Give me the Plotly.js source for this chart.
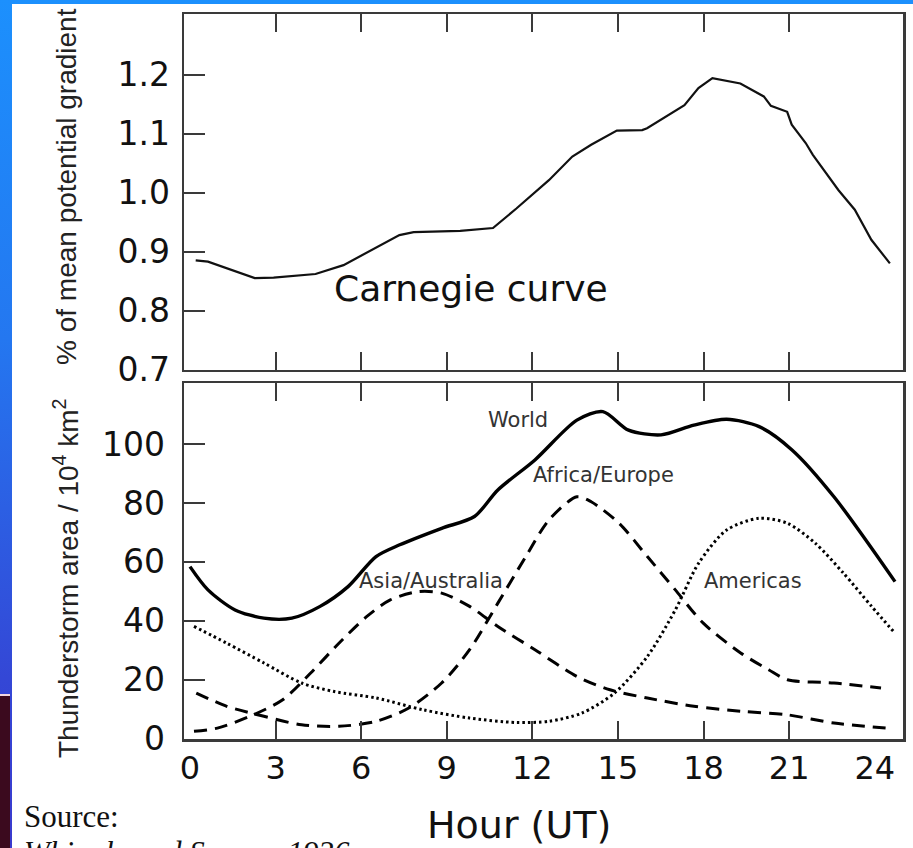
<!DOCTYPE html>
<html><head><meta charset="utf-8">
<script src="https://cdn.plot.ly/plotly-3.0.1.min.js"></script>
<style>
html,body{margin:0;padding:0;width:913px;height:848px;overflow:hidden;}
body{background:linear-gradient(to bottom,#1c90fd 0%,#2477f0 40%,#3447d6 80%,#3a3acd 100%);position:relative;}
#white{position:absolute;left:12px;top:4px;right:0;bottom:0;background:#fff;}
#block{position:absolute;left:0;top:694px;width:10px;height:152px;background:#3b0a1e;border-top:2px solid #f2d6e0;}
#chart{position:absolute;left:0;top:0;width:913px;height:848px;}
</style></head><body>
<div id="white"></div><div id="block"></div><div id="chart"></div>
<script>
// ---- tick values / labels ----
const hourTicks = [0, 3, 6, 9, 12, 15, 18, 21, 24];
const hourLabels = ['0', '3', '6', '9', '12', '15', '18', '21', '24'];
const innerHourTicks = [3, 6, 9, 12, 15, 18, 21];
const gradTicks = [0.7, 0.8, 0.9, 1.0, 1.1, 1.2];
const gradLabels = ['0.7', '0.8', '0.9', '1.0', '1.1', '1.2'];
const gradRightTicks = [1.185, 1.068, 0.951, 0.829];
const areaTicks = [0, 20, 40, 60, 80, 100];
const areaLabels = ['0', '20', '40', '60', '80', '100'];
const areaRightTicks = [101.9, 81.8, 62.0, 41.7, 22.0];

// ---- Carnegie curve ----
const carnegieHour = [0.2, 0.63, 2.27, 2.93, 4.40, 5.38, 7.34, 7.84, 9.47, 10.62, 11.44, 12.58, 13.40, 14.06, 14.96, 15.85, 16.02, 17.33, 17.82, 18.31, 19.29, 20.11, 20.36, 20.93, 21.09, 21.58, 21.83, 22.73, 23.30, 23.88, 24.53];
const carnegieValue = [0.885, 0.883, 0.855, 0.856, 0.862, 0.877, 0.928, 0.933, 0.935, 0.940, 0.973, 1.021, 1.061, 1.081, 1.105, 1.106, 1.109, 1.148, 1.177, 1.194, 1.185, 1.163, 1.147, 1.137, 1.115, 1.084, 1.064, 1.004, 0.971, 0.920, 0.880];

// ---- Thunderstorm areas ----
const worldHour = [0, 0.63, 1.58, 2.59, 3.57, 4.56, 5.54, 6.52, 7.35, 8.82, 9.97, 10.79, 12.09, 13.56, 14.47, 15.37, 16.51, 17.66, 18.81, 19.95, 21.10, 22.57, 24.71];
const worldArea = [58.4, 50.5, 43.7, 40.9, 40.9, 44.9, 51.6, 61.8, 65.8, 71.4, 75.4, 84.4, 94.6, 108.1, 111.0, 104.7, 103.1, 106.4, 108.4, 105.9, 98.0, 82.1, 53.3];

const asiaHour = [0.14, 0.96, 2.10, 3.25, 4.23, 5.22, 6.20, 7.02, 8.0, 8.82, 9.80, 10.79, 12.09, 13.56, 14.72, 16.03, 17.66, 19.30, 20.94, 22.57, 24.38];
const asiaArea = [2.5, 3.6, 7.6, 13.2, 22.3, 32.4, 41.5, 47.1, 49.9, 49.4, 44.9, 38.1, 30.2, 21.1, 16.6, 13.8, 11.0, 9.3, 8.1, 5.3, 3.6];

const africaHour = [0.22, 1.29, 2.59, 3.91, 5.22, 6.53, 7.67, 8.82, 9.80, 10.79, 11.77, 12.58, 13.56, 14.06, 15.04, 16.03, 17.01, 17.99, 19.30, 20.28, 20.94, 22.57, 24.22];
const africaArea = [15.5, 11.0, 7.6, 4.7, 4.2, 5.9, 10.4, 18.9, 30.2, 46.0, 61.8, 74.2, 82.1, 80.4, 73.1, 61.8, 50.5, 39.2, 29.1, 23.4, 20.0, 18.9, 17.2];

const americasHour = [0.14, 1.29, 2.59, 3.91, 5.06, 6.53, 8.17, 9.80, 11.44, 12.58, 13.73, 14.88, 16.03, 17.01, 17.83, 18.81, 19.95, 20.94, 21.92, 22.90, 23.89, 24.71];
const americasArea = [38.1, 32.4, 25.7, 18.9, 16.0, 13.8, 9.8, 7.0, 5.5, 5.9, 8.7, 15.5, 27.9, 43.7, 59.6, 70.8, 74.8, 73.1, 66.3, 56.2, 44.9, 35.8];

const hourRange = [-0.21, 24.99];
const frameColor = '#3a3a3a';
const xTickFont = {family: 'DejaVu Sans', size: 32, color: '#111'};
const yTickFont = {family: 'DejaVu Sans', size: 33, color: '#111'};
const titleFont = {family: 'Liberation Sans, Arial, sans-serif', size: 28, color: '#222'};
const labelFont = {family: 'DejaVu Sans', size: 21, color: '#333'};

const traces = [
  {x: carnegieHour, y: carnegieValue, xaxis: 'x2', yaxis: 'y', mode: 'lines',
   line: {color: '#111', width: 2.2}, hoverinfo: 'skip'},
  {x: worldHour, y: worldArea, xaxis: 'x', yaxis: 'y2', mode: 'lines',
   line: {color: '#000', width: 3.4, shape: 'spline', smoothing: 0.8}},
  {x: asiaHour, y: asiaArea, xaxis: 'x', yaxis: 'y2', mode: 'lines',
   line: {color: '#000', width: 3, dash: '13px,8px', shape: 'spline', smoothing: 0.8}},
  {x: africaHour, y: africaArea, xaxis: 'x', yaxis: 'y2', mode: 'lines',
   line: {color: '#000', width: 3, dash: '13px,8px', shape: 'spline', smoothing: 0.8}},
  {x: americasHour, y: americasArea, xaxis: 'x', yaxis: 'y2', mode: 'lines',
   line: {color: '#000', width: 3, dash: '2.5px,3px', shape: 'spline', smoothing: 0.8}},
  // empty carrier trace so the hour-label axis is drawn
  {x: hourTicks, y: hourTicks.map(() => null), xaxis: 'x3', yaxis: 'y2', mode: 'lines',
   line: {width: 0}, hoverinfo: 'skip'}
];

const baseX = {
  range: hourRange, tickmode: 'array', tickvals: innerHourTicks, ticks: 'inside',
  ticklen: 18, tickwidth: 2, tickcolor: frameColor, showline: true, linecolor: frameColor,
  linewidth: 2.5, mirror: 'ticks', showgrid: false, zeroline: false, showticklabels: false
};

const layout = {
  width: 913, height: 848,
  margin: {l: 184, r: 10, t: 14, b: 109},
  paper_bgcolor: 'rgba(0,0,0,0)', plot_bgcolor: 'rgba(0,0,0,0)',
  showlegend: false,
  xaxis: Object.assign({}, baseX, {anchor: 'y2', domain: [0, 1]}),
  xaxis2: Object.assign({}, baseX, {anchor: 'y', domain: [0, 1]}),
  xaxis3: {overlaying: 'x', anchor: 'y2', side: 'bottom', range: hourRange, tickmode: 'array',
    tickvals: hourTicks, ticktext: hourLabels, ticks: '', showline: false, showgrid: false,
    zeroline: false, showticklabels: true, tickfont: xTickFont, ticklabelstandoff: 7},
  yaxis: {domain: [0.50897, 1], anchor: 'x2', range: [0.6993, 1.3027], tickmode: 'array',
    tickvals: gradTicks, ticktext: gradLabels, ticks: 'inside', ticklen: 21, tickwidth: 2,
    tickcolor: frameColor, showline: true, linecolor: frameColor, linewidth: 2.5, mirror: true,
    showgrid: false, zeroline: false, tickfont: yTickFont, ticklabelstandoff: 5},
  yaxis2: {domain: [0, 0.49103], anchor: 'x', range: [-0.1, 120.7], tickmode: 'array',
    tickvals: areaTicks, ticktext: areaLabels, ticks: 'inside', ticklen: 21, tickwidth: 2,
    tickcolor: frameColor, showline: true, linecolor: frameColor, linewidth: 2.5, mirror: true,
    showgrid: false, zeroline: false, tickfont: yTickFont, ticklabelstandoff: 10},
  yaxis3: {overlaying: 'y', side: 'right', anchor: 'x2', range: [0.6993, 1.3027], tickmode: 'array',
    tickvals: gradRightTicks, ticks: 'inside', ticklen: 20, tickwidth: 2, tickcolor: frameColor,
    showticklabels: false, showline: false, showgrid: false, zeroline: false},
  yaxis4: {overlaying: 'y2', side: 'right', anchor: 'x', range: [-0.1, 120.7], tickmode: 'array',
    tickvals: areaRightTicks, ticks: 'inside', ticklen: 20, tickwidth: 2, tickcolor: frameColor,
    showticklabels: false, showline: false, showgrid: false, zeroline: false},
  annotations: [
    {text: 'Carnegie curve', xref: 'x2', yref: 'y', x: 9.85, y: 0.8366, showarrow: false,
     xanchor: 'center', yanchor: 'middle', font: {family: 'DejaVu Sans', size: 36, color: '#111'}},
    {text: 'World', xref: 'x', yref: 'y2', x: 11.49, y: 108.1, showarrow: false, font: labelFont},
    {text: 'Africa/Europe', xref: 'x', yref: 'y2', x: 14.49, y: 89.5, showarrow: false, font: labelFont},
    {text: 'Asia/Australia', xref: 'x', yref: 'y2', x: 8.46, y: 53.5, showarrow: false, font: labelFont},
    {text: 'Americas', xref: 'x', yref: 'y2', x: 19.75, y: 53.5, showarrow: false, font: labelFont},
    {text: '% of mean potential gradient', xref: 'paper', yref: 'paper',
     x: (66 - 184) / 719, y: (739 - 187) / 725, textangle: -90, showarrow: false,
     xanchor: 'center', yanchor: 'middle', font: titleFont},
    {text: 'Thunderstorm area / 10<sup>4</sup> km<sup>2</sup>', xref: 'paper', yref: 'paper',
     x: (66 - 184) / 719, y: (739 - 578) / 725, textangle: -90, showarrow: false,
     xanchor: 'center', yanchor: 'middle', font: titleFont},
    {text: 'Hour (UT)', xref: 'paper', yref: 'paper',
     x: (519 - 184) / 719, y: (739 - 825) / 725, showarrow: false,
     xanchor: 'center', yanchor: 'middle',
     font: {family: 'DejaVu Sans', size: 38, color: '#111'}},
    {text: 'Source:', xref: 'paper', yref: 'paper',
     x: (22 - 184) / 719, y: (739 - 797) / 725, showarrow: false, align: 'left',
     xanchor: 'left', yanchor: 'top',
     font: {family: 'Liberation Serif, Times New Roman, serif', size: 31, color: '#111'}},
    {text: '<i>Whipple and Scrase, 1936</i>', xref: 'paper', yref: 'paper',
     x: (22 - 184) / 719, y: (739 - 833) / 725, showarrow: false, align: 'left',
     xanchor: 'left', yanchor: 'top',
     font: {family: 'Liberation Serif, Times New Roman, serif', size: 31, color: '#111'}}
  ]
};

Plotly.newPlot('chart', traces, layout, {displayModeBar: false, staticPlot: true});
</script>
</body></html>
